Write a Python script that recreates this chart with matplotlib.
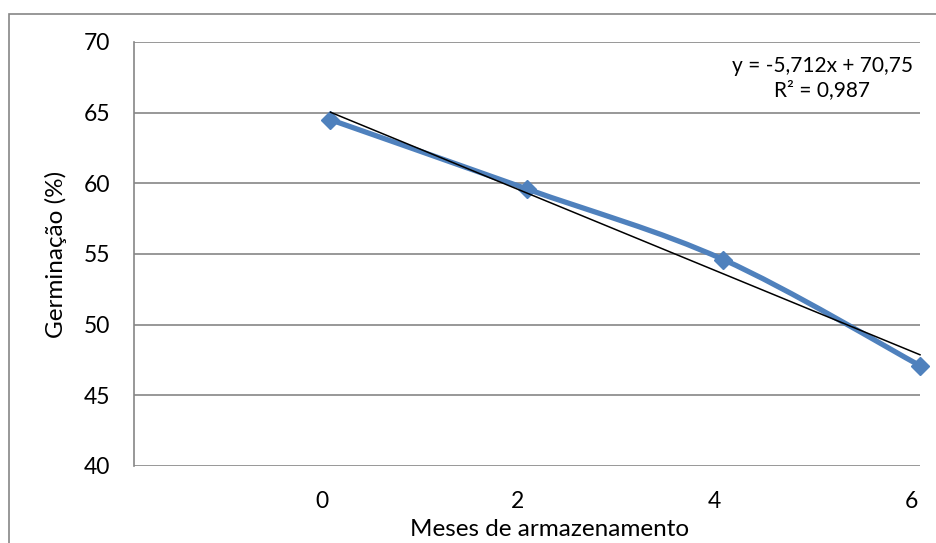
import numpy as np
import matplotlib.pyplot as plt
import matplotlib.transforms as mtransforms
from matplotlib.path import Path
from matplotlib.patches import PathPatch, Rectangle

meses = [0, 2, 4, 6]
germinacao = [64.5, 59.6, 54.6, 47.1]
x_ticks = [0, 2, 4, 6]
y_ticks = [40, 45, 50, 55, 60, 65, 70]

plt.rcParams['font.family'] = ['Lato', 'DejaVu Sans']

fig = plt.figure(figsize=(9.37, 5.43), dpi=100)
ax = fig.add_axes([134 / 937, 77 / 543, 786 / 937, 424 / 543])

grid_color = '#868686'
blue = '#4F81BD'

# outer chart border (cut off at right and bottom like the original)
fig.patches.append(Rectangle((9 / 937, -0.05), 1.1, (543 - 14) / 543 + 0.05,
                             transform=fig.transFigure, fill=False,
                             edgecolor=grid_color, linewidth=1.2))

ax.set_xlim(-2, 6)
ax.set_ylim(40, 70)
ax.set_yticks(y_ticks)
ax.set_xticks(x_ticks)
ax.yaxis.grid(True, color=grid_color, linewidth=1.2)
ax.set_axisbelow(True)
for side in ['top', 'right', 'bottom']:
    ax.spines[side].set_visible(False)
ax.spines['left'].set_color(grid_color)
ax.spines['left'].set_linewidth(1.2)
ax.tick_params(length=0, labelsize=16.5, colors='black', pad=17)
ax.tick_params(axis='x', pad=18)
offset = mtransforms.ScaledTranslation(-9 / 100, 0, fig.dpi_scale_trans)
for lab in ax.get_xticklabels():
    lab.set_transform(lab.get_transform() + offset)

# smoothed line (Excel style Catmull-Rom bezier)
pts = np.column_stack([meses, germinacao]).astype(float)
verts = [pts[0]]
codes = [Path.MOVETO]
n = len(pts)
for i in range(n - 1):
    p0 = pts[i - 1] if i > 0 else pts[i]
    p1 = pts[i]
    p2 = pts[i + 1]
    p3 = pts[i + 2] if i + 2 < n else pts[i + 1]
    c1 = p1 + (p2 - p0) / 6
    c2 = p2 - (p3 - p1) / 6
    verts += [c1, c2, p2]
    codes += [Path.CURVE4] * 3
line = PathPatch(Path(verts, codes), fill=False, edgecolor=blue,
                 linewidth=3.8, capstyle='round', joinstyle='round', zorder=3)
line.set_clip_on(False)
ax.add_patch(line)
ax.plot(meses, germinacao, linestyle='none', marker='D', markersize=9,
        color=blue, zorder=4, clip_on=False)

# linear trendline
coef = np.polyfit(meses, germinacao, 1)
xt = np.array([meses[0], meses[-1]])
ax.plot(xt, np.polyval(coef, xt), color='black', linewidth=1.1, zorder=5,
        clip_on=False)

ax.text(822 / 937, 1 - 78 / 543, 'y = -5,712x + 70,75\nR² = 0,987',
        transform=fig.transFigure, ha='center', va='center', fontsize=15,
        linespacing=1.25)

ax.set_xlabel('Meses de armazenamento', fontsize=17.5)
ax.xaxis.set_label_coords((550 - 134) / 786, -(530 - 466) / 424)
ax.xaxis.label.set_va('center')
ax.set_ylabel('Germinação (%)', fontsize=17.5, labelpad=12)

plt.savefig('out.png', dpi=100)
